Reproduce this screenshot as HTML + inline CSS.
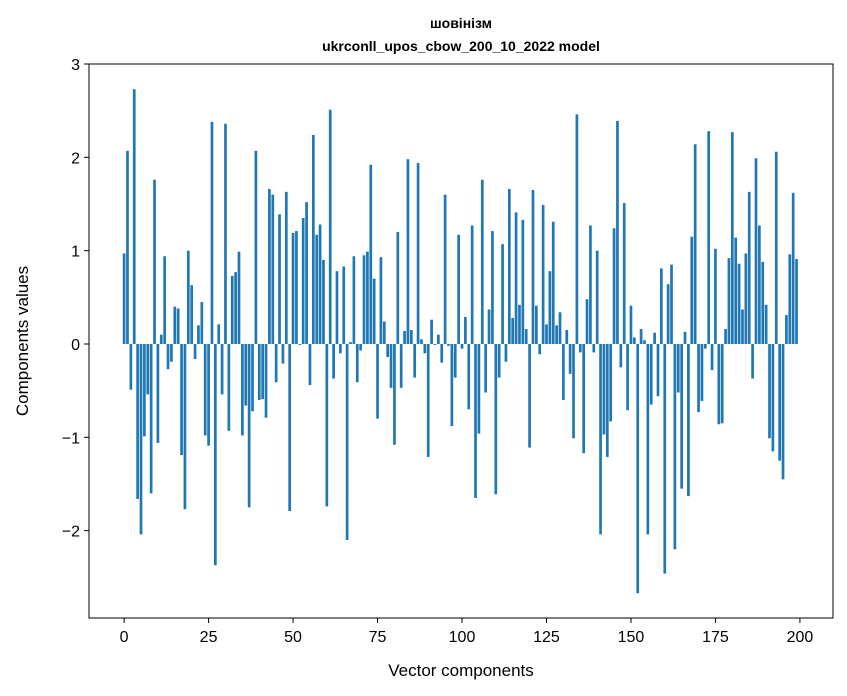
<!DOCTYPE html>
<html><head><meta charset="utf-8"><style>
html,body{margin:0;padding:0;background:#fff;}
svg{display:block;font-family:"Liberation Sans","DejaVu Sans",sans-serif;}
</style></head><body>
<svg id="chart" width="847" height="696" xmlns="http://www.w3.org/2000/svg">
<rect width="847" height="696" fill="#fff"/>
<text x="461" y="28" text-anchor="middle" font-size="14" font-weight="bold">шовінізм</text>
<text x="461" y="51" text-anchor="middle" font-size="14" font-weight="bold">ukrconll_upos_cbow_200_10_2022 model</text>
<g id="bars"></g>
<g id="xticks"></g>
<g id="yticks"></g>
<rect x="89" y="64" width="744" height="554" fill="none" stroke="#000" stroke-width="1"/>
<text x="461" y="676" text-anchor="middle" font-size="17">Vector components</text>
<text x="28" y="341" text-anchor="middle" font-size="17" transform="rotate(-90 28 341)">Components values</text>
</svg>
<script>
const values = [0.97,2.07,-0.49,2.73,-1.66,-2.04,-0.99,-0.54,-1.6,1.76,
-1.06,0.1,0.94,-0.27,-0.19,0.4,0.38,-1.19,-1.77,1.0,
0.63,-0.16,0.2,0.45,-0.98,-1.09,2.38,-2.37,0.21,-0.54,
2.36,-0.93,0.73,0.77,0.99,-0.98,-0.66,-1.75,-0.72,2.07,
-0.6,-0.59,-0.79,1.66,1.6,-0.41,1.39,-0.21,1.63,-1.79,
1.19,1.21,-0.01,1.35,1.52,-0.44,2.24,1.17,1.28,0.9,
-1.74,2.51,-0.37,0.78,-0.1,0.83,-2.1,0.02,0.94,-0.41,
-0.07,0.95,0.99,1.92,0.7,-0.8,0.93,0.24,-0.14,-0.47,
-1.08,1.2,-0.47,0.14,1.98,0.15,-0.36,1.94,0.05,-0.1,
-1.21,0.26,-0.01,0.1,-0.2,1.6,-0.02,-0.88,-0.36,1.17,
-0.05,0.29,-0.7,1.27,-1.65,-0.96,1.76,-0.52,0.37,1.21,
-1.61,-0.36,1.07,-0.19,1.66,0.28,1.41,0.42,1.33,0.16,
-1.11,1.65,0.41,-0.11,1.49,0.21,0.78,1.31,0.2,0.34,
-0.6,0.15,-0.32,-1.01,2.46,-0.09,-1.17,0.48,1.27,-0.09,
1.0,-2.04,-0.97,-1.21,-0.83,1.24,2.39,-0.25,1.51,-0.71,
0.41,0.07,-2.67,0.16,0.04,-2.04,-0.65,0.12,-0.56,0.81,
-2.46,0.64,0.85,-2.2,-0.52,-1.55,0.13,-1.63,1.15,2.14,
-0.73,-0.61,-0.05,2.28,-0.28,1.02,-0.86,-0.85,0.16,0.92,
2.27,1.14,0.86,0.37,0.97,1.63,-0.37,1.99,1.27,0.88,
0.42,-1.01,-1.15,2.06,-1.25,-1.45,0.31,0.96,1.62,0.91];
const xTicks = [0,25,50,75,100,125,150,175,200];
const yTicks = [3,2,1,0,-1,-2];
const yTickLabels = ["3","2","1","0","\u22121","\u22122"];

const X0=89, X1=833, Y0=64, Y1=618;
const xMin=-10.39, xMax=209.79, yMin=-2.936, yMax=3.0;
function xs(v){return X0+(v-xMin)/(xMax-xMin)*(X1-X0);}
function ys(v){return Y1-(v-yMin)/(yMax-yMin)*(Y1-Y0);}
const NS="http://www.w3.org/2000/svg";
const bars=document.getElementById('bars');
values.forEach((v,i)=>{
  const r=document.createElementNS(NS,'rect');
  
  
  const xa=xs(i-0.4), xb=xs(i+0.4);
  const ya=ys(Math.max(v,0)), yb=ys(Math.min(v,0));
  r.setAttribute('x',xa);r.setAttribute('width',xb-xa);
  r.setAttribute('y',ya);r.setAttribute('height',Math.max(yb-ya,0.3));
  r.setAttribute('fill','#1f77b4');
  bars.appendChild(r);
});
const xg=document.getElementById('xticks');
xTicks.forEach(t=>{
  const x=xs(t);
  const l=document.createElementNS(NS,'line');
  
  
  l.setAttribute('x1',x);l.setAttribute('x2',x);l.setAttribute('y1',Y1);l.setAttribute('y2',Y1+5);
  l.setAttribute('stroke','#000');
  xg.appendChild(l);
  const tx=document.createElementNS(NS,'text');
  
  
  tx.setAttribute('x',x);tx.setAttribute('y',Y1+24);
  tx.setAttribute('text-anchor','middle');tx.setAttribute('font-size','16');
  tx.textContent=String(t);
  xg.appendChild(tx);
});
const yg=document.getElementById('yticks');
yTicks.forEach((t,i)=>{
  const y=ys(t);
  const l=document.createElementNS(NS,'line');
  
  
  l.setAttribute('x1',X0-5);l.setAttribute('x2',X0);l.setAttribute('y1',y);l.setAttribute('y2',y);
  l.setAttribute('stroke','#000');
  yg.appendChild(l);
  const tx=document.createElementNS(NS,'text');
  
  
  tx.setAttribute('x',X0-9);tx.setAttribute('y',y+6);
  tx.setAttribute('text-anchor','end');tx.setAttribute('font-size','16');
  tx.textContent=yTickLabels[i];
  yg.appendChild(tx);
});
</script>
</body></html>
